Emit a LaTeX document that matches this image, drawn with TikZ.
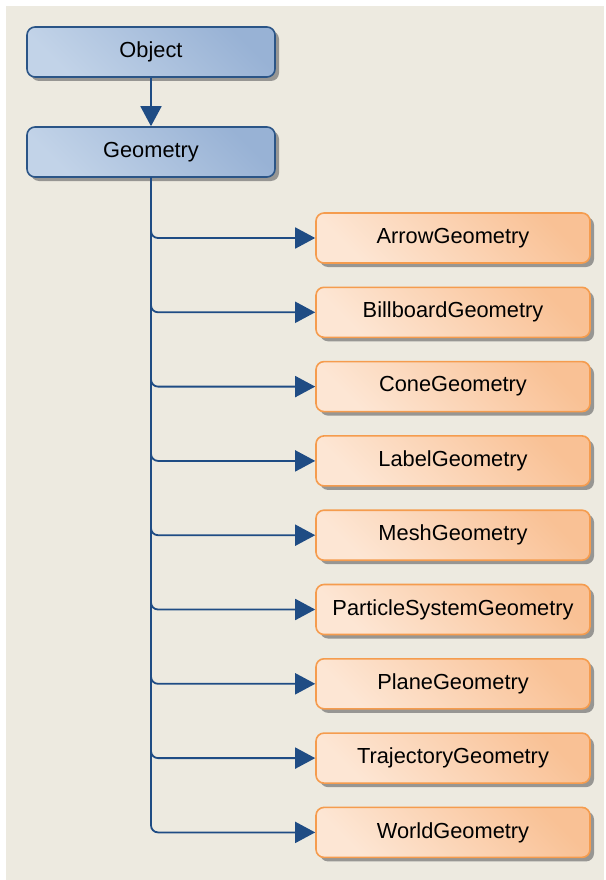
\documentclass[tikz,border=0pt]{standalone}
\usepackage{fontspec}
\setmainfont{Liberation Sans}
\usepackage{tikz}
\usetikzlibrary{arrows.meta,shadows}
\definecolor{bgcol}{HTML}{EDEAE0}
\definecolor{blueline}{HTML}{2B5587}
\definecolor{bluelight}{HTML}{C2D3E8}
\definecolor{bluedark}{HTML}{98B2D5}
\definecolor{orangeline}{HTML}{F59C4E}
\definecolor{orangelight}{HTML}{FDE6D4}
\definecolor{orangedark}{HTML}{F9C195}
\definecolor{arrowcol}{HTML}{1F4C84}
\tikzset{
  classbox/.style={rounded corners=8pt, line width=1.6pt,
    drop shadow={shadow xshift=4pt, shadow yshift=-4pt, fill=black!55, opacity=0.7},
    minimum height=50pt, inner sep=0pt,
    font=\fontsize{21.8}{25}\selectfont},
  baseclass/.style={classbox, draw=blueline, minimum width=248pt,
    left color=bluelight, right color=bluedark, shading angle=135},
  subclass/.style={classbox, draw=orangeline, minimum width=274pt,
    left color=orangelight, right color=orangedark, shading angle=135},
  inherit/.style={draw=arrowcol, line width=1.8pt, rounded corners=7pt,
    -{Triangle[length=20pt,width=21pt]}}
}
\begin{document}
\begin{tikzpicture}[x=1pt,y=-1pt]
            % Background
            \fill[white] (0,0) rectangle (605,880);
            \fill[bgcol] (6,6) rectangle (604,880);
            \useasboundingbox (0,0) rectangle (605,880);

            % Draw base classes
            \node[baseclass] (object) at (151,52) {Object};
            \node[baseclass] (geometry) at (151,152) {Geometry};
            \draw[inherit] (object) -- (geometry);

            % Draw subclasses and connect them
            \foreach \name [count=\i from 0] in {Arrow,Billboard,Cone,Label,Mesh,ParticleSystem,Plane,Trajectory,World}
            {
              \node[subclass] (\name) at (453,238+74.3*\i) {\name Geometry};
              \draw[inherit] (geometry.south) |- (\name.west);
            }
          \end{tikzpicture}
\end{document}
